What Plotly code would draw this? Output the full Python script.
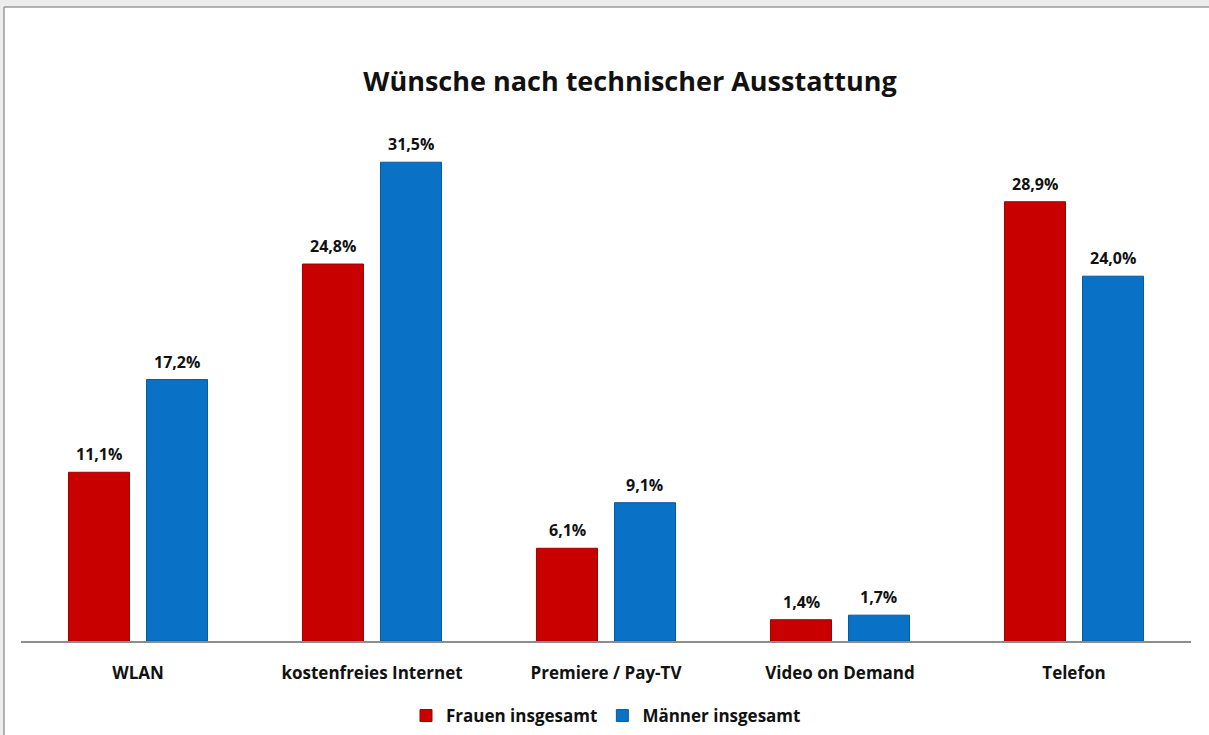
import plotly.graph_objects as go

categories = ["WLAN", "kostenfreies Internet", "Premiere / Pay-TV", "Video on Demand", "Telefon"]
frauen = [11.1, 24.8, 6.1, 1.4, 28.9]
maenner = [17.2, 31.5, 9.1, 1.7, 24.0]
series_names = ["Frauen insgesamt", "Männer insgesamt"]

RED = "#C80000"
BLUE = "#0A72C6"
FONT = "Open Sans"

W, H = 1209, 735
ML, MR, MT, MB = 21, 18, 109, 94
PW, PH = W - ML - MR, H - MT - MB
SLOT = 0.333  # category width share of one bar slot


def px_x(px):
    return (px - ML) / PW


def px_y(py):
    return (H - MB - py) / PH


def fmt(v):
    return f"{v:.1f}%".replace(".", ",")


fig = go.Figure()
for name, vals, col, line in [(series_names[0], frauen, RED, "#A00000"),
                              (series_names[1], maenner, BLUE, "#085A9E")]:
    fig.add_trace(go.Bar(
        x=categories, y=vals, name=f"<b>{name}</b>",
        marker=dict(color=col, line=dict(color=line, width=1)),
    ))

# value labels above each bar
annotations = []
for i, cat in enumerate(categories):
    for vals, off in [(frauen, -SLOT / 2), (maenner, SLOT / 2)]:
        annotations.append(dict(
            x=i + off, y=vals[i], xref="x", yref="y",
            text=f"<b>{fmt(vals[i])}</b>", showarrow=False,
            yanchor="bottom", yshift=5,
            font=dict(family=FONT, size=16, color="#111111"),
        ))

# window-like frame: light gray strips on top and left, gray edge lines
frame = [
    dict(type="rect", xref="paper", yref="paper", layer="below",
         x0=px_x(-5), x1=px_x(W + 5), y0=px_y(7), y1=px_y(-5),
         fillcolor="#EDEDED", line=dict(width=0)),
    dict(type="rect", xref="paper", yref="paper", layer="below",
         x0=px_x(-5), x1=px_x(4), y0=px_y(H + 5), y1=px_y(-5),
         fillcolor="#EDEDED", line=dict(width=0)),
    dict(type="line", xref="paper", yref="paper", layer="below",
         x0=px_x(4), x1=px_x(W + 5), y0=px_y(7), y1=px_y(7),
         line=dict(color="#9A9A9A", width=1.5)),
    dict(type="line", xref="paper", yref="paper", layer="below",
         x0=px_x(4), x1=px_x(4), y0=px_y(7), y1=px_y(H + 5),
         line=dict(color="#9A9A9A", width=1.5)),
]

fig.update_layout(
    width=W, height=H,
    margin=dict(l=ML, r=MR, t=MT, b=MB, autoexpand=False),
    paper_bgcolor="white",
    plot_bgcolor="rgba(0,0,0,0)",
    barmode="group", bargap=0.333, bargroupgap=0.218,
    title=dict(text="<b>Wünsche nach technischer Ausstattung</b>",
               x=630 / W, xanchor="center", y=1 - 82 / H, yanchor="middle",
               font=dict(family=FONT, size=27, color="#111111")),
    xaxis=dict(showline=True, linecolor="#8C8C8C", linewidth=1.5,
               ticks="", ticklabelstandoff=16, automargin=False,
               tickfont=dict(family=FONT, size=17, color="#111111"),
               tickprefix="<b>", ticksuffix="</b>"),
    yaxis=dict(range=[0, 35], visible=False, showgrid=False, automargin=False),
    legend=dict(orientation="h", x=px_x(606), xanchor="center",
                y=px_y(716), yanchor="middle", bgcolor="rgba(0,0,0,0)",
                font=dict(family=FONT, size=17, color="#111111"),
                itemwidth=30, traceorder="normal"),
    annotations=annotations,
    shapes=frame,
)

fig.write_html("out.html")
